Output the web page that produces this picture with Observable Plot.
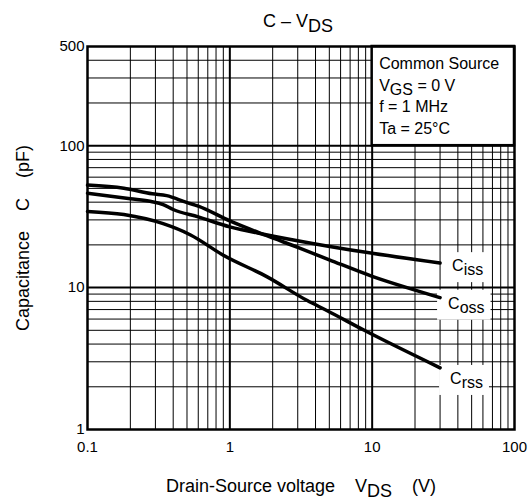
<!DOCTYPE html>
<html>
<head>
<meta charset="utf-8">
<script src="https://cdn.jsdelivr.net/npm/d3@7"></script>
<script src="https://cdn.jsdelivr.net/npm/@observablehq/plot@0.6"></script>
<style>
  html, body { margin: 0; padding: 0; background: #fff; }
  svg { display: block; }
</style>
</head>
<body>
<div id="chart"></div>
<script>
// ---- data ----
const titleText = "C – V_{DS}";
const xLabelText = "Drain-Source voltage\u00a0\u00a0\u00a0\u00a0V_{DS}\u00a0\u00a0\u00a0\u00a0(V)";
const yLabelText = "Capacitance\u00a0\u00a0\u00a0\u00a0C\u00a0\u00a0\u00a0\u00a0(pF)";
const conditionLines = ["Common Source", "V_{GS} = 0 V", "f = 1 MHz", "Ta = 25°C"];

const xTicks = [0.1, 1, 10, 100];
const yTicks = [1, 10, 100, 500];

const seriesNames = ["C_{iss}", "C_{oss}", "C_{rss}"];

const cissV = [0.1, 0.2, 0.28, 0.34, 0.4, 0.6, 1, 1.8, 3.9, 8.8, 30];
const cissC = [46.3, 42.3, 40.4, 38.5, 35.5, 31.5, 26.8, 23.6, 20.4, 17.8, 14.9];

const cossV = [0.1, 0.18, 0.285, 0.36, 0.49, 0.6, 1, 1.8, 3, 5, 10, 20, 30];
const cossC = [52.8, 50.2, 45.8, 44.5, 40, 37.5, 29.5, 23.3, 19.2, 15.7, 12, 9.6, 8.5];

const crssV = [0.1, 0.18, 0.34, 0.53, 0.9, 1.83, 3.5, 4.8, 8.8, 30];
const crssC = [34.4, 32.7, 28.2, 23.5, 16.9, 11.9, 8.1, 6.9, 5.0, 2.72];

// ---- derived tables ----
const series = [
  {name: seriesNames[0], v: cissV, c: cissC},
  {name: seriesNames[1], v: cossV, c: cossC},
  {name: seriesNames[2], v: crssV, c: crssC}
];
const lineData = series.flatMap(s => s.v.map((v, i) => ({name: s.name, v, c: s.c[i]})));
const endPoints = series.map(s => ({name: s.name, v: s.v[s.v.length - 1], c: s.c[s.c.length - 1]}));

const decadesX = [0.1, 1, 10];
const xMinor = decadesX.flatMap(d => d3.range(2, 10).map(k => k * d));
const xMajor = [xTicks[1], xTicks[2]];
const decadesY = [1, 10, 100];
const yMinor = decadesY.flatMap(d => d3.range(2, 10).map(k => k * d)).filter(v => v < yTicks[3]);
const yMajor = [yTicks[1], yTicks[2]];
const condBox = [{x1: xTicks[2], x2: xTicks[3], y1: yTicks[2], y2: yTicks[3]}];

const labelDx = [12, 8, 10];
const labelDy = [3, 6, 11];

const font = "'Liberation Sans', Arial, Helvetica, sans-serif";

const plot = Plot.plot({
  width: 528,
  height: 501,
  marginLeft: 87,
  marginRight: 14,
  marginTop: 46,
  marginBottom: 72,
  style: {fontFamily: font, fontSize: "15px", color: "black", background: "white"},
  x: {type: "log", domain: [xTicks[0], xTicks[3]], axis: null},
  y: {type: "log", domain: [yTicks[0], yTicks[3]], axis: null},
  marks: [
    Plot.ruleX(xMinor, {stroke: "black", strokeWidth: 1}),
    Plot.ruleY(yMinor, {stroke: "black", strokeWidth: 1}),
    Plot.ruleX(xMajor, {stroke: "black", strokeWidth: 2}),
    Plot.ruleY(yMajor, {stroke: "black", strokeWidth: 2}),
    Plot.rect(condBox, {x1: "x1", x2: "x2", y1: "y1", y2: "y2", fill: "white", stroke: "black", strokeWidth: 2.5}),
    Plot.text([conditionLines.join("\n")], {
      x: () => condBox[0].x1, y: () => condBox[0].y2, text: d => d,
      textAnchor: "start", lineAnchor: "top", lineHeight: 1.36,
      dx: 7, dy: 7, fontSize: 16, fill: "black"
    }),
    ...endPoints.map((e, i) => Plot.text([e], {
      x: "v", y: "c", text: "name", textAnchor: "start",
      dx: labelDx[i], dy: labelDy[i], fontSize: 16, fill: "black"
    })),
    Plot.line(lineData, {x: "v", y: "c", z: "name", stroke: "black", strokeWidth: 3.5, curve: "monotone-x"}),
    Plot.frame({stroke: "black", strokeWidth: 2.5}),
    // tick labels
    Plot.text(xTicks, {x: d => d, frameAnchor: "bottom", text: d => String(d), textAnchor: "middle", lineAnchor: "middle", dy: 18, fontSize: 15, fill: "black"}),
    Plot.text(yTicks, {y: d => d, frameAnchor: "left", text: d => String(d), textAnchor: "end", lineAnchor: "middle", dx: -3, dy: 0, fontSize: 15, fill: "black"}),
    // titles
    Plot.text([titleText], {frameAnchor: "top", text: d => d, textAnchor: "middle", lineAnchor: "middle", dy: -25, dx: -3, fontSize: 18, fill: "black"}),
    Plot.text([xLabelText], {frameAnchor: "bottom", text: d => d, textAnchor: "middle", lineAnchor: "middle", dy: 57, fontSize: 18, fill: "black"}),
    Plot.text([yLabelText], {frameAnchor: "left", text: d => d, textAnchor: "middle", lineAnchor: "middle", dx: -64, rotate: -90, fontSize: 18, fill: "black"})
  ]
});

document.getElementById("chart").appendChild(plot);

const NS = "http://www.w3.org/2000/svg";

// ---- curve labels (found by their text) get a white box ----
const labelTexts = [];
d3.select(plot).selectAll("text").each(function() {
  if (seriesNames.includes(this.textContent)) labelTexts.push(this);
});

// ---- subscripts ----
function subscriptify(el) {
  const s = el.textContent;
  if (!s.includes("_{")) return;
  const parts = s.split(/_\{([^}]*)\}/);
  while (el.firstChild) el.removeChild(el.firstChild);
  let shifted = false;
  parts.forEach((p, i) => {
    if (!p) return;
    const isSub = i % 2 === 1;
    const t = document.createElementNS(NS, "tspan");
    if (isSub && !shifted) { t.setAttribute("dy", "0.25em"); shifted = true; }
    else if (!isSub && shifted) { t.setAttribute("dy", "-0.25em"); shifted = false; }
    t.textContent = p;
    el.appendChild(t);
  });
}
d3.select(plot).selectAll("text").each(function() {
  const tsp = this.querySelectorAll("tspan");
  if (tsp.length) tsp.forEach(subscriptify);
  else subscriptify(this);
});

labelTexts.forEach(el => {
  const bb = el.getBBox();
  const r = document.createElementNS(NS, "rect");
  r.setAttribute("x", bb.x - 11);
  r.setAttribute("y", bb.y - 5);
  r.setAttribute("width", bb.width + 17);
  r.setAttribute("height", bb.height + 9);
  r.setAttribute("fill", "white");
  const tr = el.getAttribute("transform");
  if (tr) r.setAttribute("transform", tr);
  el.parentNode.insertBefore(r, el);
});
</script>
</body>
</html>
